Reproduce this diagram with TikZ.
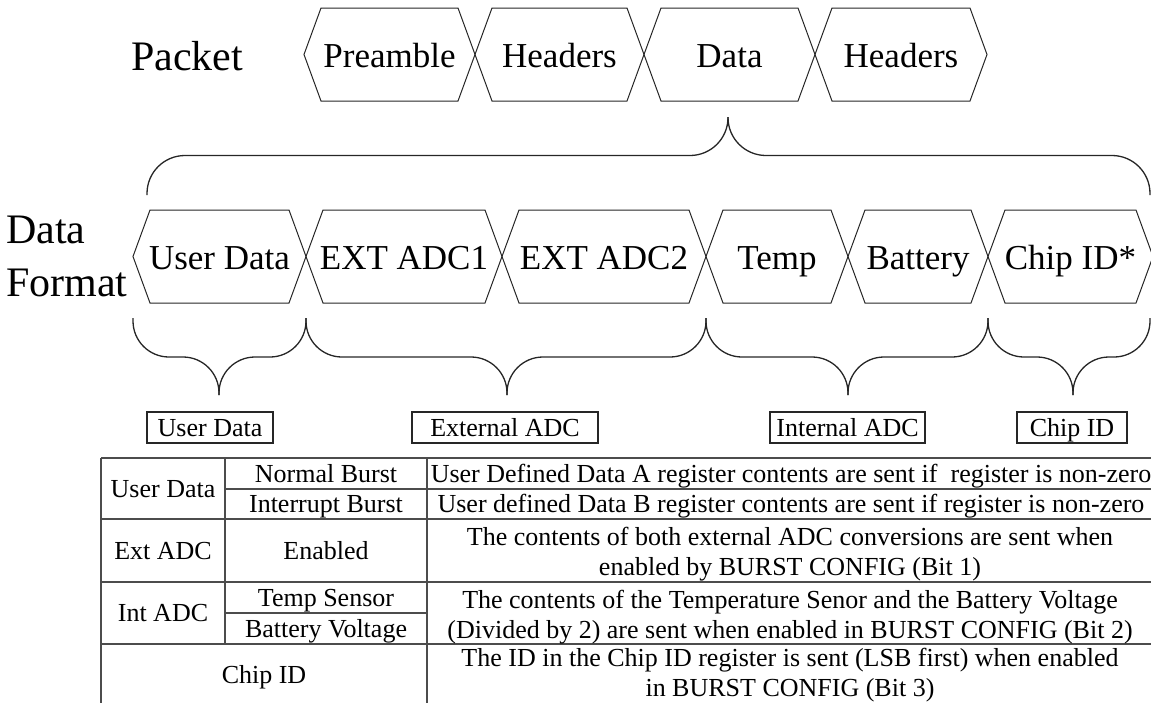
\documentclass[tikz,border=0pt]{standalone}
\usepackage{fontspec}
\setmainfont{Liberation Serif}

\tikzset{
  hexline/.style={draw=black!85, line width=1pt},
  hextext/.style={font=\fontsize{35}{42}\selectfont, text height=23.2pt, text depth=0pt},
  biglbl/.style={font=\fontsize{42}{53}\selectfont},
  tagbox/.style={draw=black!85, line width=1.3pt, font=\fontsize{26}{31}\selectfont, text height=17.2pt, text depth=0pt, inner ysep=6.9pt},
  cell/.style={font=\fontsize{26}{31}\selectfont, text height=17.2pt, text depth=0pt},
  cellml/.style={font=\fontsize{26}{30.5}\selectfont, align=center},
  brc/.style={draw=black!85, line width=1.3pt, rounded corners=36pt},
  grid/.style={draw=black!70, line width=1.6pt}
}

\begin{document}
\begin{tikzpicture}[x=1pt, y=-1pt, every node/.style={inner sep=0pt}]
  \useasboundingbox (0,0) rectangle (1151,702);

  % packet row
  \node[biglbl, anchor=base west] (pkt) at (131,70) {Packet};
  \foreach \l/\r/\t/\n in {304/475/Preamble/pre, 475/644/Headers/hdr1, 644/815/Data/dat, 815/987/Headers/hdr2} {
    \draw[hexline] (\l,54.5) -- (\l+17,8) -- (\r-17,8) -- (\r,54.5) -- (\r-17,101) -- (\l+17,101) -- cycle;
    \node[hextext] (\n) at ({(\l+\r)/2},56) {\t};
  }

  % brace under Data
  \coordinate (bl) at (147,195);
  \coordinate (br) at (1150,195);
  \coordinate (bm) at (728,155.5);
  \coordinate (bt) at (728,117);
  \draw[brc, rounded corners=38pt] (bl) |- (bm) -- (bt);
  \draw[brc, rounded corners=38pt] (br) |- (bm) -- (bt);

  % data format row
  \node[biglbl, align=left, anchor=north west] (fmt) at (6,216) {Data\\Format};
  \foreach \l/\r/\t/\n in {133/306/User Data/usr, 306/502/EXT ADC1/ext1, 502/706/EXT ADC2/ext2, 706/848/Temp/tmp, 848/988/Battery/bat, 988/1153/Chip ID*/chip} {
    \draw[hexline] (\l,256.5) -- (\l+17,210) -- (\r-17,210) -- (\r,256.5) -- (\r-17,303) -- (\l+17,303) -- cycle;
    \node[hextext] (\n) at ({(\l+\r)/2},258) {\t};
  }

  % braces to the groups
  \foreach \a/\m/\b in {133/219/306, 306/507/706, 706/848/988, 988/1073/1150} {
    \draw[brc] (\a,318) |- (\m,357) -- (\m,395);
    \draw[brc] (\b,318) |- (\m,357) -- (\m,395);
  }
  \node[tagbox, minimum width=126pt] (tusr) at (210,427.5) {User Data};
  \node[tagbox, minimum width=186pt] (tea) at (505,427.5) {External ADC};
  \node[tagbox, minimum width=155pt] (tia) at (847.5,427.5) {Internal ADC};
  \node[tagbox, minimum width=110pt] (tchip) at (1072,427.5) {Chip ID};

  % table
  \foreach \y/\s in {458/101, 489/225, 519/101, 582/101, 644/101}
    \draw[grid] (\s,\y) -- (1153,\y);
  \draw[grid] (225,613) -- (427,613);
  \draw[grid] (101,458) -- (101,710);
  \draw[grid] (225,458) -- (225,644);
  \draw[grid] (427,458) -- (427,710);

  \node[cell] (c11) at (163,488.5) {User Data};
  \node[cell] (c12) at (326,473.5) {Normal Burst};
  \node[cell] (c13) at (791,473.5) {User Defined Data A register contents are sent if\ \ register is non-zero};
  \node[cell] (c22) at (791,504) {User defined Data B register contents are sent if register is non-zero};
  \node[cell] (c21) at (326,504) {Interrupt Burst};
  \node[cell] (c31) at (163,550.5) {Ext ADC};
  \node[cell] (c32) at (326,550.5) {Enabled};
  \node[cellml] (c33) at (790,554) {The contents of both external ADC conversions are sent when\\enabled by BURST CONFIG (Bit 1)};
  \node[cell] (c41) at (163,613) {Int ADC};
  \node[cell] (c42) at (326,597.5) {Temp Sensor};
  \node[cell] (c52) at (326,628.5) {Battery Voltage};
  \node[cellml] (c43) at (790,617) {The contents of the Temperature Senor and the Battery Voltage\\(Divided by 2) are sent when enabled in BURST CONFIG (Bit 2)};
  \node[cell] (c61) at (264,675) {Chip ID};
  \node[cellml] (c63) at (790,675) {The ID in the Chip ID register is sent (LSB first) when enabled\\in BURST CONFIG (Bit 3)};
\end{tikzpicture}
\end{document}
